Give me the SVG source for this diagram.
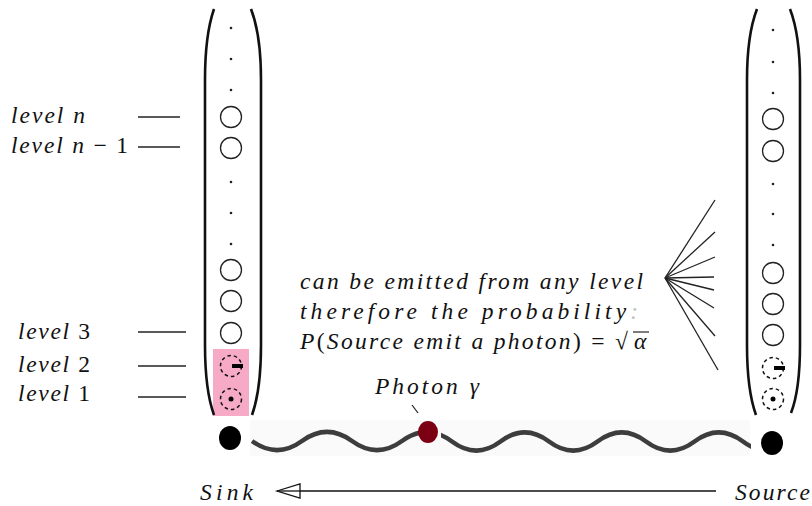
<svg xmlns="http://www.w3.org/2000/svg" width="812" height="506" viewBox="0 0 812 506">
<defs>
<style>
.t{font-family:"Liberation Serif","DejaVu Serif",serif;font-style:italic;font-size:23.5px;fill:#111}
.u{font-style:normal}
.paren{fill:none;stroke:#111;stroke-width:2.6}
.lvl{fill:none;stroke:#222;stroke-width:1.3}
.dash{fill:none;stroke:#111;stroke-width:1.5;stroke-dasharray:3.5 3}
.dot{fill:#222}
.ln{stroke:#222;stroke-width:1.3}
.wave{fill:none;stroke:#3d3d3d;stroke-width:4.5}
</style>
<clipPath id="cl"><rect x="251" y="415" width="169" height="45"/></clipPath>
<clipPath id="cr"><rect x="441" y="415" width="310" height="45"/></clipPath>
</defs>
<rect width="812" height="506" fill="#fff"/>

<g id="sink-atom">
<rect x="213" y="349" width="36" height="67" fill="#f7aac5"/>
<path class="paren" d="M214,9 Q205,35 205,80 L205,345 Q205,390 214,415"/>
<path class="paren" d="M251,9 Q261,35 261,80 L261,345 Q261,390 252,415"/>
<circle class="dot" cx="231" cy="28" r="1.3"/>
<circle class="dot" cx="231" cy="59" r="1.3"/>
<circle class="dot" cx="231" cy="90" r="1.3"/>
<circle class="lvl" cx="231" cy="117" r="10.5"/>
<circle class="lvl" cx="231" cy="148" r="10.5"/>
<circle class="dot" cx="231" cy="182" r="1.3"/>
<circle class="dot" cx="231" cy="213" r="1.3"/>
<circle class="dot" cx="231" cy="244" r="1.3"/>
<circle class="lvl" cx="231" cy="270" r="10.5"/>
<circle class="lvl" cx="231" cy="301" r="10.5"/>
<circle class="lvl" cx="231" cy="333" r="10.5"/>
<circle class="dash" cx="231" cy="366" r="10.5"/>
<rect x="232" y="364" width="11" height="4" fill="#000"/>
<circle class="dash" cx="231" cy="399" r="10.5"/>
<circle cx="231" cy="399" r="2.5" fill="#000"/>
</g>

<g id="source-atom">
<path class="paren" d="M757,9 Q747,35 747,80 L747,345 Q747,390 756,415"/>
<path class="paren" d="M790,9 Q800,35 800,80 L800,345 Q800,390 791,413"/>
<circle class="dot" cx="773" cy="30" r="1.3"/>
<circle class="dot" cx="773" cy="62" r="1.3"/>
<circle class="dot" cx="773" cy="93" r="1.3"/>
<circle class="lvl" cx="773" cy="119" r="10.5"/>
<circle class="lvl" cx="773" cy="151" r="10.5"/>
<circle class="dot" cx="773" cy="184" r="1.3"/>
<circle class="dot" cx="773" cy="214" r="1.3"/>
<circle class="dot" cx="773" cy="245" r="1.3"/>
<circle class="lvl" cx="773" cy="273" r="10.5"/>
<circle class="lvl" cx="773" cy="304" r="10.5"/>
<circle class="lvl" cx="773" cy="335" r="10.5"/>
<circle class="dash" cx="773" cy="368" r="10.5"/>
<rect x="774" y="366" width="11" height="4" fill="#000"/>
<circle class="dash" cx="773" cy="399" r="10.5"/>
<circle cx="773" cy="399" r="2.5" fill="#000"/>
</g>

<g id="level-labels">
<text class="t" x="11" y="123" textLength="74" lengthAdjust="spacing">level n</text>
<text class="t" x="11" y="153" textLength="117" lengthAdjust="spacing">level n <tspan class="u">− 1</tspan></text>
<text class="t" x="18" y="339" textLength="72" lengthAdjust="spacing">level <tspan class="u">3</tspan></text>
<text class="t" x="18" y="372" textLength="72" lengthAdjust="spacing">level <tspan class="u">2</tspan></text>
<text class="t" x="18" y="401" textLength="72" lengthAdjust="spacing">level <tspan class="u">1</tspan></text>
<line class="ln" x1="138" y1="117" x2="180" y2="117"/>
<line class="ln" x1="138" y1="147" x2="180" y2="147"/>
<line class="ln" x1="138" y1="332" x2="186" y2="332"/>
<line class="ln" x1="138" y1="366" x2="186" y2="366"/>
<line class="ln" x1="138" y1="397" x2="186" y2="397"/>
</g>

<g id="emission-note">
<text class="t" x="300" y="289" textLength="343" lengthAdjust="spacing">can be emitted from any level</text>
<text class="t" x="300" y="319" textLength="338" lengthAdjust="spacing">therefore the probability<tspan fill="#bbb">:</tspan></text>
<text class="t" x="300" y="349" textLength="328" lengthAdjust="spacing">P<tspan class="u">(</tspan>Source emit a photon<tspan class="u">) = √</tspan></text>
<line x1="633" y1="332" x2="649" y2="332" stroke="#111" stroke-width="1.1"/>
<text class="t" x="634" y="349">α</text>
</g>

<g id="fan">
<line class="ln" x1="665" y1="278" x2="715" y2="200"/>
<line class="ln" x1="665" y1="278" x2="715" y2="232"/>
<line class="ln" x1="665" y1="278" x2="715" y2="257"/>
<line class="ln" x1="665" y1="278" x2="714" y2="277"/>
<line class="ln" x1="665" y1="278" x2="714" y2="290"/>
<line class="ln" x1="665" y1="278" x2="714" y2="308"/>
<line class="ln" x1="665" y1="278" x2="715" y2="336"/>
<line class="ln" x1="665" y1="278" x2="718" y2="370"/>
</g>

<g id="photon-path">
<rect x="250" y="420" width="500" height="36" fill="#fafafa"/>
<path class="wave" clip-path="url(#cl)" d="M252,441 C268.5,453 285.5,453 302,441 C318.5,429 335.5,429 352,441 C368.5,453 385.5,453 402,441 C418.5,429 435.5,429 452,441"/>
<path class="wave" clip-path="url(#cr)" d="M403.5,441.5 C419.5,429.5 436,429.5 452,441.5 C468,453.5 484.5,453.5 500.5,441.5 C516.5,429.5 533,429.5 549,441.5 C565,453.5 581.5,453.5 597.5,441.5 C613.5,429.5 630,429.5 646,441.5 C662,453.5 678.5,453.5 694.5,441.5 C710.5,429.5 727,429.5 743,441.5 C759,453.5 775.5,453.5 791.5,441.5"/>
</g>

<g id="sink-dot"><ellipse cx="230" cy="438" rx="11" ry="12" fill="#000"/></g>
<g id="source-dot"><ellipse cx="772" cy="443" rx="11" ry="12" fill="#000"/></g>
<g id="photon">
<ellipse cx="428" cy="432" rx="10" ry="11" fill="#7b0014"/>
<line x1="412" y1="405" x2="418" y2="413" stroke="#222" stroke-width="1.2"/>
<text class="t" x="375" y="394" textLength="104" lengthAdjust="spacing">Photon γ</text>
</g>

<g id="connectors">
<line x1="300" y1="491" x2="716" y2="491" stroke="#111" stroke-width="1.3"/>
<polygon points="277,491 300,484 300,498" fill="#fff" stroke="#111" stroke-width="1.3"/>
<line x1="277" y1="491" x2="300" y2="491" stroke="#111" stroke-width="1.3"/>
</g>

<g id="end-labels">
<text class="t" x="200" y="500" textLength="53" lengthAdjust="spacing">Sink</text>
<text class="t" x="735" y="500" textLength="75" lengthAdjust="spacing">Source</text>
</g>
</svg>
